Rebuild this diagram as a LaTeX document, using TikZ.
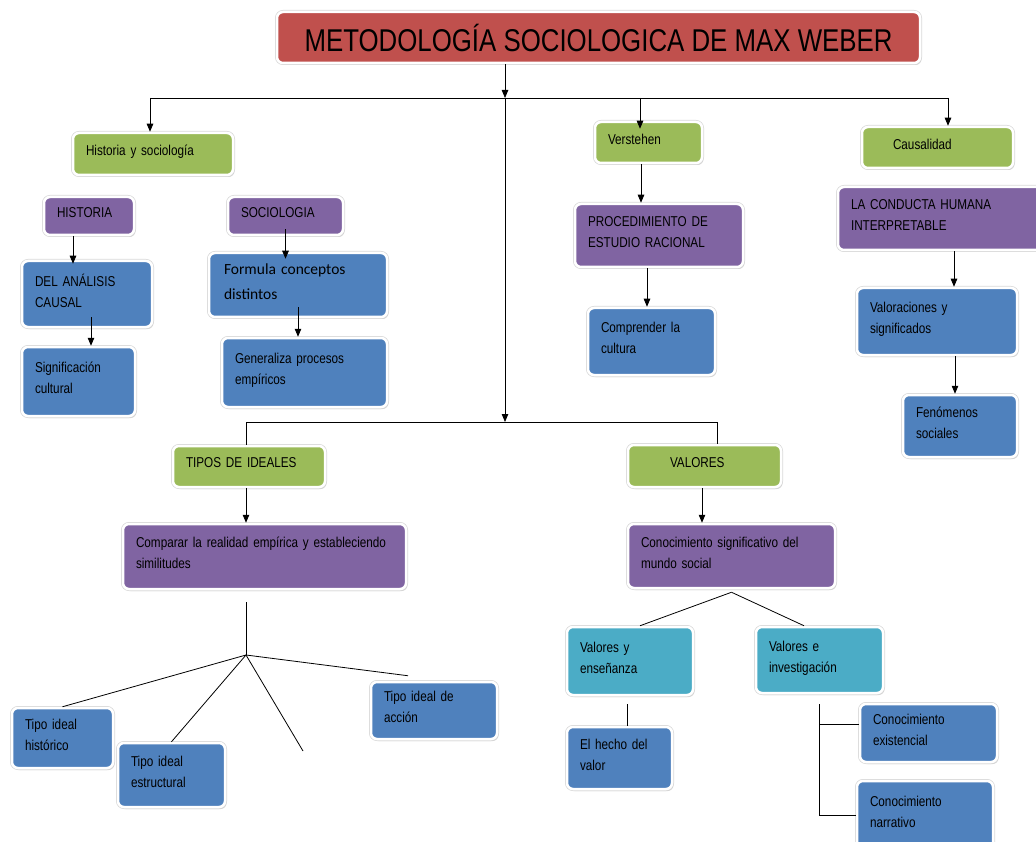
\documentclass[tikz,border=0pt]{standalone}
\usepackage{fontspec}
\setmainfont{Liberation Sans}[FakeStretch=0.82]
\newfontfamily\calibri{Carlito}
\usepackage{tikz}
\usetikzlibrary{arrows.meta,calc,shadows,positioning}
\definecolor{rojo}{HTML}{C0504D}
\definecolor{verde}{HTML}{9BBB59}
\definecolor{morado}{HTML}{8064A2}
\definecolor{azul}{HTML}{4F81BD}
\definecolor{celeste}{HTML}{4BACC6}

\begin{document}
\begin{tikzpicture}[x=1pt,y=-1pt,
  marco/.style={rounded corners=6pt, draw=white, line width=2.5pt,
    drop shadow={shadow xshift=1.5pt,shadow yshift=-2pt,fill=gray!60,opacity=0.6},
    preaction={draw=gray!30,line width=4pt}},
  caja/.style={marco, align=left, inner xsep=13pt, inner ysep=3pt, text=black,
    font=\fontsize{14.3}{21}\selectfont,
    execute at end node={\rule[-7pt]{0pt}{7pt}}},
  med/.style 2 args={text width=#1pt, minimum height=#2pt},
  vbox/.style={caja, fill=verde},
  mbox/.style={caja, fill=morado},
  abox/.style={caja, fill=azul},
  cbox/.style={caja, fill=celeste},
  linea/.style={line width=0.8pt},
  flecha/.style={linea, -{Triangle[length=8pt,width=6.5pt]}}]
\useasboundingbox (0,0) rectangle (1036,842);

% titulo
\node[marco, fill=rojo, minimum width=643, minimum height=51, inner sep=0pt,
  font=\fontsize{31.5}{36}\selectfont] (titulo) at (598.5,37.5)
  {METODOLOGÍA SOCIOLOGICA DE MAX WEBER};

% historia y sociologia
\node[vbox, med={134}{42}] (hys) at (153,154) {Historia y sociología};
\node[mbox, med={64}{38}] (historia) at (89,216) {HISTORIA};
\node[mbox, med={89}{38}] (sociologia) at (285.5,216) {SOCIOLOGIA};
\node[abox, med={104}{66}] (del) at (87,294) {DEL ANÁLISIS\\CAUSAL};
\node[abox, med={87}{69}] (sig) at (78.5,381.5) {Significación\\cultural};
\node[abox, med={148}{64}, inner xsep=15pt, font=\calibri\fontsize{15.5}{25}\selectfont]
  (formula) at (298,285) {Formula conceptos\\distintos};
\node[abox, med={139}{69}] (generaliza) at (304.5,372.5) {Generaliza procesos\\empíricos};

% verstehen
\node[vbox, med={81}{41}] (vers) at (648.5,142.5) {Verstehen};
\node[mbox, med={142}{63}] (proc) at (659,235.5) {PROCEDIMIENTO DE\\ESTUDIO RACIONAL};
\node[abox, med={101}{67}] (comprender) at (651.5,341.5) {Comprender la\\cultura};

% causalidad
\node[vbox, med={89}{41}, inner xsep=31pt] (caus) at (937.5,147.5) {Causalidad};
\node[mbox, med={196}{63}] (conducta) at (949,218.5) {LA CONDUCTA HUMANA\\INTERPRETABLE};
\node[abox, med={134}{67}] (valoraciones) at (937,321.5) {Valoraciones y\\significados};
\node[abox, med={88}{62}] (fen) at (960,426) {Fenómenos\\sociales};

% tipos ideales
\node[vbox, med={126}{41}] (tipos) at (249,466.5) {TIPOS DE IDEALES};
\node[mbox, med={257}{65}] (comparar) at (264.5,556.5)
  {Comparar la realidad empírica y estableciendo\\similitudes};
\node[abox, med={75}{60}] (historico) at (62.5,738) {Tipo ideal\\histórico};
\node[abox, med={81}{64}] (estructural) at (171.5,775) {Tipo ideal\\estructural};
\node[abox, med={100}{57}] (accion) at (434,710.5) {Tipo ideal de\\acción};

% valores
\node[vbox, med={69}{42}, inner xsep=42pt] (valores) at (704.5,466) {VALORES};
\node[mbox, med={181}{64}] (conocsig) at (731.5,556)
  {Conocimiento significativo del\\mundo social};
\node[cbox, med={100}{68}] (ensenanza) at (630,661) {Valores y\\enseñanza};
\node[cbox, med={101}{66}] (investig) at (819.5,660) {Valores e\\investigación};
\node[abox, med={79}{62}] (hecho) at (619.5,758) {El hecho del\\valor};
\node[abox, med={111}{58}] (existencial) at (928.5,733) {Conocimiento\\existencial};
\node[abox, med={110}{69}] (narrativo) at (925,815.5) {Conocimiento\\narrativo};

% conectores
\coordinate (j0) at (505,98);
\coordinate (jA) at (150,98);
\coordinate (jV) at (640,98);
\coordinate (jC) at (948,98);
\coordinate (j1) at (505,422);
\coordinate (jT) at (246,422);
\coordinate (jW) at (717,422);
\coordinate (nudo) at (246,655);
\coordinate (suelto) at (303,751);

\draw[flecha] (titulo.south -| j0) -- (j0);
\draw[linea] (jA) -- (jC);
\draw[flecha] (jA) -- (hys.north -| jA);
\draw[flecha] (jV) -- ([yshift=-8pt]vers.north -| jV);
\draw[flecha] (jC) -- (caus.north -| jC);
\draw[flecha] (j0) -- (j1);
\draw[linea] (tipos.north -| jT) -- (jT) -- (jW) -- (valores.north -| jW);

\draw[flecha] ([xshift=-16pt]historia.south) -- ([xshift=-16pt,yshift=-4pt]historia.south |- del.north);
\draw[flecha] ([xshift=4pt,yshift=11pt]del.south) -- ([xshift=4pt]del.south |- sig.north);
\draw[flecha] ([yshift=7pt]sociologia.south) -- ([yshift=-7pt]sociologia.south |- formula.north);
\draw[flecha] ([yshift=11pt]formula.south) -- (formula.south |- generaliza.north);
\draw[flecha] ([xshift=-7.5pt]vers.south) -- ([xshift=-7.5pt]vers.south |- proc.north);
\draw[flecha] ([xshift=-12pt]proc.south) -- ([xshift=-12pt]proc.south |- comprender.north);
\draw[flecha] ([xshift=5pt]conducta.south) -- ([xshift=5pt]conducta.south |- valoraciones.north);
\draw[flecha] ([xshift=18pt]valoraciones.south) -- ([xshift=18pt]valoraciones.south |- fen.north);
\draw[flecha] ([xshift=-3pt]tipos.south) -- ([xshift=-3pt]tipos.south |- comparar.north);
\draw[flecha] ([xshift=-2.5pt]valores.south) -- ([xshift=-2.5pt]valores.south |- conocsig.north);

% ramas de tipos ideales
\draw[linea] ([xshift=-18.5pt,yshift=-12pt]comparar.south) -- (nudo);
\draw[linea] (nudo) -- (historico.north);
\draw[linea] (nudo) -- (estructural.north);
\draw[linea] (nudo) -- (suelto);
\draw[linea] (nudo) -- ([xshift=-26pt,yshift=5pt]accion.north);

% ramas de valores
\draw[linea] ([yshift=-3pt]conocsig.south) -- ([xshift=10pt]ensenanza.north);
\draw[linea] ([yshift=-3pt]conocsig.south) -- ([xshift=-15.5pt]investig.north);
\draw[linea] ([xshift=-3pt,yshift=-8pt]ensenanza.south) -- ([xshift=-3pt]ensenanza.south |- hecho.north);
\coordinate (e1) at ([yshift=9pt]existencial.west);
\draw[linea] ([yshift=-10pt]investig.south) |- (narrativo.west);
\draw[linea] (investig.south |- e1) -- (e1);
\end{tikzpicture}
\end{document}
